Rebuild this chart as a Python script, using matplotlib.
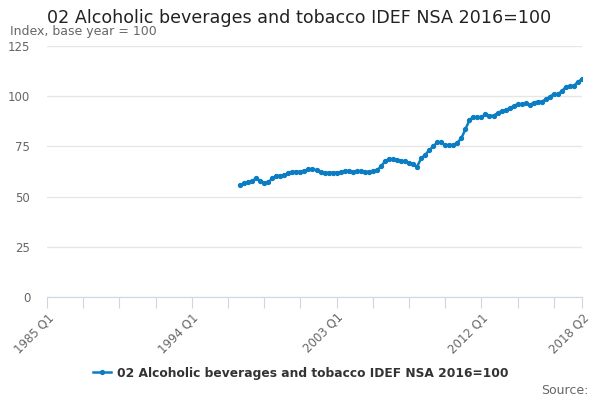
import numpy as np
import matplotlib
matplotlib.use("Agg")
import matplotlib.pyplot as plt

# quarterly axis from 1985 Q1 to 2018 Q2
quarters = ["%d Q%d" % (y, q) for y in range(1985, 2019) for q in range(1, 5)][:134]
start_quarter = "1997 Q1"

values = [
    55.8, 56.6, 57.1, 57.8, 59.1, 57.9, 56.9, 57.1, 59.1, 60.3,
    60.4, 60.8, 61.6, 62.4, 62.4, 62.4, 62.9, 63.6, 63.6, 63.2,
    62.1, 61.9, 61.9, 61.9, 62.0, 62.2, 62.6, 62.8, 62.4, 62.6,
    62.7, 62.4, 62.3, 62.6, 63.0, 65.0, 67.5, 68.8, 68.6, 68.2,
    67.9, 67.5, 66.8, 66.0, 64.9, 69.0, 70.8, 73.0, 75.0, 77.0,
    77.0, 75.5, 75.7, 75.7, 76.9, 79.0, 83.5, 88.0, 89.8, 89.5,
    89.5, 91.0, 90.3, 90.3, 91.5, 92.6, 93.1, 94.0, 95.1, 96.0,
    96.0, 96.4, 95.6, 96.8, 97.3, 97.3, 98.4, 99.8, 101.0, 101.0,
    102.5, 104.7, 105.2, 105.2, 107.2, 108.4,
]
series_name = "02 Alcoholic beverages and tobacco IDEF NSA 2016=100"

tick_step = 9
label_step = 36

line_color = "#0b7dc2"
grey = "#666666"
axis_color = "#ccd6eb"

x0 = quarters.index(start_quarter)
xs = np.arange(x0, x0 + len(values))

fig = plt.figure(figsize=(6, 4), dpi=100)
ax = fig.add_axes([47 / 600, 1 - 297 / 400, 535 / 600, 251 / 400])

ax.plot(xs, values, "-o", color=line_color, linewidth=1.8, markersize=2.8,
        label=series_name)

ax.set_xlim(0, len(quarters) - 1)
ax.set_ylim(0, 125)
ax.set_yticks(range(0, 126, 25))
ax.tick_params(axis="y", length=0, labelsize=8.5, labelcolor=grey, pad=12)
ax.grid(axis="y", color="#e6e6e6", linewidth=1)
ax.set_axisbelow(True)

ticks = list(range(0, len(quarters) - 1, tick_step)) + [len(quarters) - 1]
ax.set_xticks(ticks)
labels = [quarters[t] if (t % label_step == 0 or t == len(quarters) - 1) else "" for t in ticks]
ax.set_xticklabels(labels, rotation=45, ha="right", rotation_mode="anchor")
ax.tick_params(axis="x", length=8, color=axis_color, labelsize=8.5,
               labelcolor=grey, pad=2)

for s in ["top", "right", "left"]:
    ax.spines[s].set_visible(False)
ax.spines["bottom"].set_color(axis_color)

fig.text(47 / 600, 1 - 18 / 400, series_name, fontsize=12.6, color="#222222",
         va="center", ha="left")
fig.text(10 / 600, 1 - 32 / 400, "Index, base year = 100", fontsize=9,
         color=grey, va="center", ha="left")
fig.text(589 / 600, 1 - 390 / 400, "Source:", fontsize=9, color=grey,
         va="center", ha="right")

fig.legend(loc="center", bbox_to_anchor=(301 / 600, 1 - 373 / 400), frameon=False,
           prop={"weight": "bold", "size": 8.8}, labelcolor="#333333",
           handlelength=1.5, handletextpad=0.5)

fig.savefig("out.png", dpi=100)
